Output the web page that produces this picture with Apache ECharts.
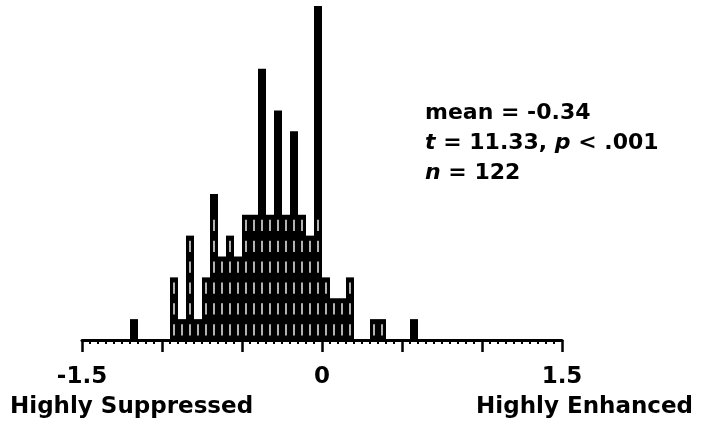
<!DOCTYPE html>
<html>
<head>
<meta charset="utf-8">
<script src="https://cdn.jsdelivr.net/npm/echarts@6/dist/echarts.min.js"></script>
<style>
html,body{margin:0;padding:0;background:#fff;}
#chart{width:703px;height:426px;}
</style>
</head>
<body>
<div id="chart"></div>
<script>
// Histogram bins (bin centers, width 0.05) and counts
const binCenters = [-1.175, -0.925, -0.875, -0.825, -0.775, -0.725, -0.675, -0.625, -0.575, -0.525,
  -0.475, -0.425, -0.375, -0.325, -0.275, -0.225, -0.175, -0.125, -0.075, -0.025,
  0.025, 0.075, 0.125, 0.175, 0.325, 0.375, 0.575];
const counts = [1, 3, 1, 5, 1, 3, 7, 4, 5, 4,
  6, 6, 13, 6, 11, 6, 10, 6, 5, 16,
  3, 2, 2, 3, 1, 1, 1];
const binWidth = 0.05;
const tickLabels = [-1.5, 0, 1.5];
const statLines = ['mean = -0.34', 't = 11.33, p < .001', 'n = 122'];

const FONT = '"DejaVu Sans", sans-serif';
const chart = echarts.init(document.getElementById('chart'), null, {renderer: 'canvas'});

const data = binCenters.map((c, i) => [c, counts[i]]);
function hasNeighbour(x) {
  return binCenters.some(c => Math.abs(Math.abs(c - x) - binWidth) < 1e-6);
}

chart.setOption({
  backgroundColor: '#ffffff',
  animation: false,
  grid: {left: 82, right: 141, top: 6, bottom: 86},
  xAxis: {
    type: 'value', min: -1.5, max: 1.5, interval: 0.5,
    axisLine: {show: true, onZero: false, lineStyle: {color: '#000', width: 3}},
    axisTick: {show: true, inside: false, length: 12, lineStyle: {color: '#000', width: 2.5}},
    minorTick: {show: true, splitNumber: 10, length: 4, lineStyle: {color: '#000', width: 2}},
    splitLine: {show: false},
    axisLabel: {
      margin: 26, color: '#000', fontFamily: FONT, fontWeight: 'bold', fontSize: 23,
      formatter: v => tickLabels.some(t => Math.abs(t - v) < 1e-9) ? String(v) : ''
    }
  },
  yAxis: {type: 'value', min: 0, max: 16, show: false},
  series: [{
    type: 'custom',
    data: data,
    renderItem: function (params, api) {
      const x = api.value(0), c = api.value(1);
      const p0 = api.coord([x - binWidth / 2, 0]);
      const p1 = api.coord([x + binWidth / 2, c]);
      const children = [{
        type: 'rect',
        shape: {x: p0[0], y: p1[1], width: p1[0] - p0[0], height: p0[1] - p1[1]},
        style: {fill: '#000'}
      }];
      if (hasNeighbour(x)) {
        const m = Math.min(c, 6);
        for (let k = 0; k < m; k++) {
          const a = api.coord([x, k + 0.22]);
          const b = api.coord([x, k + 0.76]);
          children.push({
            type: 'line',
            shape: {x1: a[0], y1: a[1], x2: b[0], y2: b[1]},
            style: {stroke: '#eeeeee', lineWidth: 1.5}
          });
        }
      }
      return {type: 'group', children: children};
    }
  }],
  graphic: [
    {type: 'text', left: 10, top: 396, style: {text: 'Highly Suppressed', fill: '#000', font: 'bold 23px ' + FONT}},
    {type: 'text', right: 10, top: 396, style: {text: 'Highly Enhanced', fill: '#000', font: 'bold 23px ' + FONT}},
    {type: 'text', left: 425, top: 102, style: {text: statLines[0], fill: '#000', font: 'bold 22px ' + FONT}},
    {type: 'text', left: 425, top: 132, style: {
      text: '{i|t} = 11.33, {i|p} < .001', fill: '#000', font: 'bold 22px ' + FONT,
      rich: {i: {fontStyle: 'italic', fontWeight: 'bold', fontSize: 22, fontFamily: FONT}}
    }},
    {type: 'text', left: 425, top: 162, style: {
      text: '{i|n} = 122', fill: '#000', font: 'bold 22px ' + FONT,
      rich: {i: {fontStyle: 'italic', fontWeight: 'bold', fontSize: 22, fontFamily: FONT}}
    }}
  ]
});
</script>
</body>
</html>
